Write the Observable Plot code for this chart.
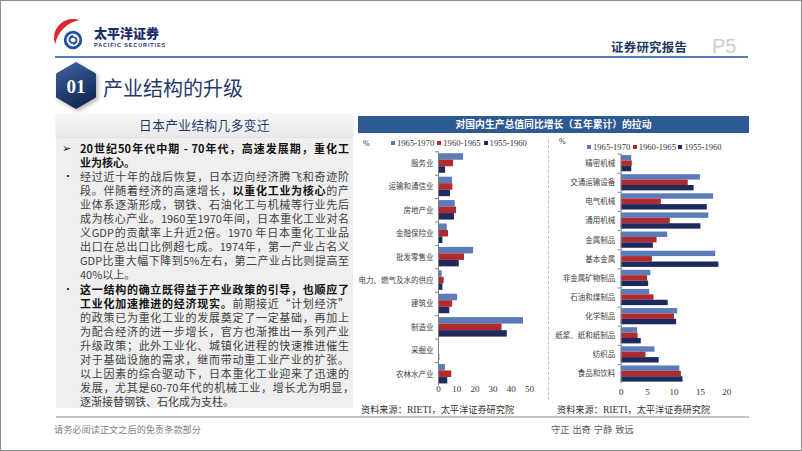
<!DOCTYPE html>
<html><head><meta charset="utf-8">
<script src="https://cdn.jsdelivr.net/npm/d3@7"></script>
<script src="https://cdn.jsdelivr.net/npm/@observablehq/plot@0.6"></script>
<style>
html,body{margin:0;padding:0;background:#fff;}
#slide{position:relative;width:802px;height:451px;box-sizing:border-box;border:1px solid #8c8c8c;overflow:hidden;font-family:"Noto Sans CJK SC",sans-serif;background:#fff;}
.abs{position:absolute;}
.ln{position:absolute;left:79px;width:269px;height:14px;line-height:14px;font-size:11px;color:#404040;text-align:justify;text-align-last:justify;white-space:nowrap;}
.ln.l{text-align-last:left;}
.ln b{color:#111;font-weight:700;}
.bul{position:absolute;left:61px;font-size:10.5px;line-height:14px;color:#111;}
.leg{position:absolute;font-family:"Liberation Serif",serif;font-size:8.6px;color:#333;line-height:10px;white-space:nowrap;}
.leg i{display:inline-block;width:4px;height:4px;margin-right:2px;vertical-align:1px;}
.src{position:absolute;top:402px;font-size:9.2px;color:#333;white-space:nowrap;line-height:12px;}
.src span{font-family:"Liberation Serif",serif;font-size:9.6px;}
</style></head><body>
<div id="slide">
  <!-- logo -->
  <svg class="abs" style="left:0;top:0" width="180" height="60">
    <path d="M54.1,43.5 A19 19 0 0 1 78.5,19.1 A30 30 0 0 0 54.1,43.5 Z" fill="#e0262c"/>
    <circle cx="72" cy="39" r="7.8" fill="#fff" stroke="#1d4f9e" stroke-width="2.8"/>
    <path d="M68.5,40.5 A3.6 3.6 0 1 1 72,43.2 M75.5,37.5 A3.6 3.6 0 1 1 72,34.8" fill="none" stroke="#1d4f9e" stroke-width="1.6"/>
  </svg>
  <div class="abs" style="left:93px;top:24px;font-size:13px;font-weight:900;color:#1c2d6e;line-height:15px;">太平洋证券</div>
  <div class="abs" style="left:93px;top:41px;font-family:'Liberation Sans',sans-serif;font-size:5.4px;font-weight:700;color:#1c2d6e;letter-spacing:0.95px;line-height:6px;">PACIFIC SECURITIES</div>
  <div class="abs" style="left:54px;top:55px;width:693px;height:2px;background:#4f7fc0;"></div>
  <div class="abs" style="left:610px;top:38px;font-size:12.4px;font-weight:700;color:#1f3864;letter-spacing:0.3px;line-height:16px;">证券研究报告</div>
  <div class="abs" style="left:711px;top:33px;font-family:'Liberation Sans',sans-serif;font-size:20px;color:#cdcdcd;line-height:24px;">P5</div>

  <!-- hexagon -->
  <svg class="abs" style="left:45px;top:55px" width="70" height="62">
    <defs>
      <linearGradient id="hg" x1="0" y1="0" x2="0.4" y2="1">
        <stop offset="0" stop-color="#3f64a3"/><stop offset="1" stop-color="#142a55"/>
      </linearGradient>
      <filter id="sh" x="-30%" y="-30%" width="160%" height="160%"><feDropShadow dx="2" dy="2" stdDeviation="2" flood-color="#000" flood-opacity="0.3"/></filter>
    </defs>
    <path d="M30,6.5 Q30,6 31,6.6 L49,17 Q50,17.5 50,18.6 L50,40.4 Q50,41.5 49,42 L31,52.4 Q30,53 29,52.4 L11,42 Q10,41.5 10,40.4 L10,18.6 Q10,17.5 11,17 L29,6.6 Q30,6 30,6.5 Z" fill="url(#hg)" filter="url(#sh)"/>
    <text x="30" y="36.5" text-anchor="middle" font-family="Liberation Serif,serif" font-weight="700" font-size="19" fill="#fff">01</text>
  </svg>
  <div class="abs" style="left:102px;top:74px;font-size:20px;color:#1f3a6b;line-height:26px;">产业结构的升级</div>

  <!-- left text box -->
  <div class="abs" style="left:55px;top:112px;width:297px;height:24px;background:linear-gradient(#f7f7f7,#e9e9e9);border-radius:4px 4px 0 0;box-shadow:0 1px 2px rgba(0,0,0,0.15);"></div>
  <div class="abs" style="left:55px;top:113px;width:297px;text-align:center;font-size:12.6px;color:#1f3a6b;line-height:22px;letter-spacing:0.5px;">日本产业结构几多变迁</div>
  <div class="abs" style="left:55px;top:137px;width:297px;height:270px;background:#efefef;"></div>
  <div id="txt"></div>

  <!-- right panel -->
  <div class="abs" style="left:357px;top:115px;width:391px;height:17px;background:#2e5a94;"></div>
  <div class="abs" style="left:357px;top:115px;width:391px;height:17px;line-height:17px;text-align:center;color:#fff;font-size:9.8px;font-weight:700;">对国内生产总值同比增长（五年累计）的拉动</div>
  <div class="abs" style="left:547px;top:139px;width:0;height:260px;border-left:1px dashed #c3c3c3;"></div>
  <div class="abs" style="left:362px;top:138px;font-family:'Liberation Serif',serif;font-size:8px;color:#333;">%</div>
  <div class="abs" style="left:558px;top:136px;font-family:'Liberation Serif',serif;font-size:8px;color:#333;">%</div>
  <div id="legA"></div><div id="legB"></div>
  <div id="chA" class="abs" style="left:355px;top:145px;"></div>
  <div id="chB" class="abs" style="left:548px;top:145px;"></div>
  <div class="src" style="left:360px;">资料来源：<span>RIETI</span>，太平洋证券研究院</div>
  <div class="src" style="left:556px;">资料来源：<span>RIETI</span>，太平洋证券研究院</div>

  <!-- footer -->
  <div class="abs" style="left:55px;top:415px;width:693px;height:2px;background:#c4c4c4;"></div>
  <div class="abs" style="left:53px;top:422px;font-size:9.2px;color:#7f7f7f;line-height:12px;">请务必阅读正文之后的免责条款部分</div>
  <div class="abs" style="left:550px;top:422px;font-size:9.2px;color:#595959;line-height:12px;word-spacing:1px;">守正 出奇 宁静 致远</div>
</div>
<script>
// ---- data ----
const series = ["1965-1970", "1960-1965", "1955-1960"];
const colors = ["#5b7cb8", "#b02a2f", "#1f2a5c"];

const catsA = ["服务业", "运输和通信业", "房地产业", "金融保险业", "批发零售业", "电力、燃气及水的供应", "建筑业", "制造业", "采掘业", "农林水产业"];
const a6570 = [13.8, 7.7, 9.2, 4.8, 19.3, 2.0, 10.5, 46.7, 0.4, 3.8];
const a6065 = [8.3, 7.9, 9.9, 5.5, 14.3, 3.1, 7.8, 34.9, 0.3, 7.3];
const a5560 = [3.9, 6.6, 8.8, 2.4, 11.4, 2.4, 6.2, 37.8, 0.7, 5.1];
const ticksA = [0, 10, 20, 30, 40, 50];

const catsB = ["精密机械", "交通运输设备", "电气机械", "通用机械", "金属制品", "基本金属", "非金属矿物制品", "石油和煤制品", "化学制品", "纸浆、纸和纸制品", "纺织品", "食品和饮料"];
const b6570 = [2.0, 15.0, 17.5, 16.6, 8.8, 17.9, 5.6, 5.4, 10.7, 3.1, 6.4, 11.1];
const b6065 = [2.1, 12.7, 7.6, 9.3, 6.8, 5.9, 5.0, 6.2, 10.1, 3.2, 4.7, 11.4];
const b5560 = [2.0, 13.8, 16.3, 15.1, 6.1, 18.5, 5.2, 8.9, 10.5, 3.8, 7.2, 11.7];
const ticksB = [0, 5, 10, 15, 20];

const textLines = [
  ["<b>20世纪50年代中期 - 70年代，高速发展期，重化工</b>", "➢", 0],
  ["<b>业为核心。</b>", "", 1],
  ["经过近十年的战后恢复，日本迈向经济腾飞和奇迹阶", "•", 0],
  ["段。伴随着经济的高速增长，<b>以重化工业为核心</b>的产", "", 0],
  ["业体系逐渐形成，钢铁、石油化工与机械等行业先后", "", 0],
  ["成为核心产业。1960至1970年间，日本重化工业对名", "", 0],
  ["义GDP的贡献率上升近2倍。1970 年日本重化工业品", "", 0],
  ["出口在总出口比例超七成。1974年，第一产业占名义", "", 0],
  ["GDP比重大幅下降到5%左右，第二产业占比则提高至", "", 0],
  ["40%以上。", "", 1],
  ["<b>这一结构的确立既得益于产业政策的引导，也顺应了</b>", "•", 0],
  ["<b>工业化加速推进的经济现实。</b>前期接近“计划经济”", "", 0],
  ["的政策已为重化工业的发展奠定了一定基础，再加上", "", 0],
  ["为配合经济的进一步增长，官方也渐推出一系列产业", "", 0],
  ["升级政策；此外工业化、城镇化进程的快速推进催生", "", 0],
  ["对于基础设施的需求，继而带动重工业产业的扩张。", "", 0],
  ["以上因素的综合驱动下，日本重化工业迎来了迅速的", "", 0],
  ["发展，尤其是60-70年代的机械工业，增长尤为明显，", "", 0],
  ["逐渐接替钢铁、石化成为支柱。", "", 1]
];

// ---- text ----
const txt = document.getElementById("txt");
textLines.forEach(([t, b, last], i) => {
  const top = 140 + i * 14.05;
  const d = document.createElement("div");
  d.className = "ln" + (last ? " l" : "");
  d.style.top = top + "px";
  if (i === 17) d.style.width = "274px";
  d.innerHTML = t;
  txt.appendChild(d);
  if (b) {
    const s = document.createElement("div");
    s.className = "bul";
    s.style.top = top + "px";
    if (b === "•") { s.style.left = "62px"; s.style.fontSize = "10px"; }
    s.textContent = b;
    txt.appendChild(s);
  }
});

// ---- legends ----
function legend(id, left, top, step) {
  const el = document.getElementById(id);
  series.forEach((s, j) => {
    const d = document.createElement("div");
    d.className = "leg";
    d.style.left = (left + j * step) + "px";
    d.style.top = top + "px";
    d.innerHTML = `<i style="background:${colors[j]}"></i>${s}`;
    el.appendChild(d);
  });
}
legend("legA", 390, 137, 46.3);
legend("legB", 586, 141, 45.7);

// ---- charts ----
function makeChart(cats, vals, ticks, o) {
  const rows = cats.flatMap((c, i) => series.map((s, j) => ({cat: c, s, j, v: vals[j][i]})));
  const band = (o.height - o.mt - o.mb) / cats.length;
  const pad = (band - 3 * o.barH) / 2;
  return Plot.plot({
    width: o.width, height: o.height,
    marginTop: o.mt, marginBottom: o.mb, marginLeft: o.ml, marginRight: o.mr,
    style: {fontFamily: "'Noto Sans CJK SC', sans-serif", background: "transparent", color: "#404040", overflow: "visible"},
    x: {domain: [ticks[0], ticks[ticks.length - 1]], axis: null},
    y: {domain: cats, padding: 0, round: false, axis: null},
    marks: [
      ...series.map((s, j) => Plot.barX(rows.filter(r => r.j === j), {
        y: "cat", x: "v", fill: colors[j],
        insetTop: pad + j * o.barH, insetBottom: pad + (2 - j) * o.barH
      })),
      Plot.ruleX([0], {stroke: "#808080"}),
      Plot.axisY({tickSize: 0, tickPadding: o.labelPad, fontSize: 7.5, fill: "#404040", label: null}),
      Plot.axisY({tickSize: 3, tickFormat: () => "", dy: -band / 2, stroke: "#808080", label: null}),
      Plot.axisX({ticks, tickSize: 0, tickPadding: o.xPad, fontSize: 9, fontFamily: "'Liberation Serif', serif", fill: "#333", label: null})
    ]
  });
}

document.getElementById("chA").appendChild(makeChart(catsA, [a6570, a6065, a5560], ticksA,
  {width: 190, height: 255, mt: 5.3, mb: 15.6, ml: 82, mr: 17, barH: 6.5, labelPad: 5, xPad: 0}));
document.getElementById("chB").appendChild(makeChart(catsB, [b6570, b6065, b5560], ticksB,
  {width: 200, height: 255, mt: 7.6, mb: 17.9, ml: 71.7, mr: 22.7, barH: 5.4, labelPad: 6, xPad: 5}));
</script>
</body></html>
